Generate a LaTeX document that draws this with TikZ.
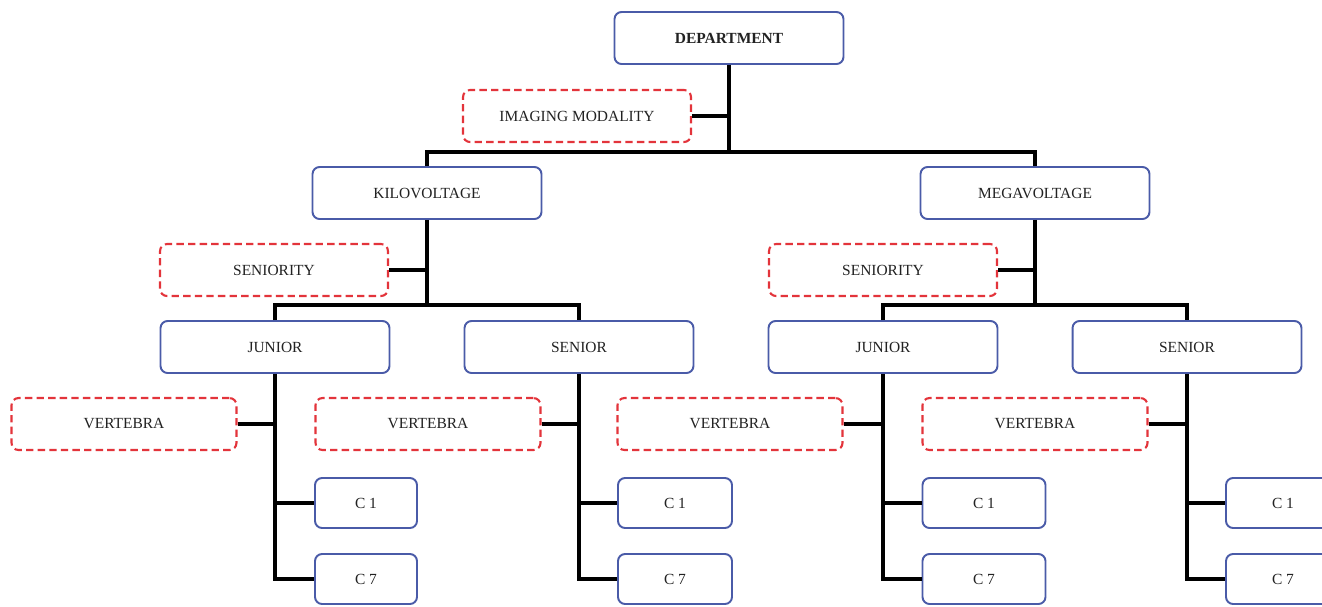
\documentclass[tikz,border=0pt]{standalone}
\usepackage{fontspec}
\setmainfont{Liberation Serif}
\usepackage{tikz}
\usetikzlibrary{positioning,calc}
\definecolor{boxblue}{HTML}{4A5BA8}
\definecolor{dashred}{HTML}{E3343B}
\definecolor{ink}{HTML}{222222}
\newcommand{\boxfont}{\fontsize{8.8}{10}\selectfont}

\begin{document}
\begin{tikzpicture}[x=0.02cm, y=-0.02cm,
  level/.style={draw=boxblue, line width=1.1pt, fill=white, rounded corners=4pt,
    minimum width=4.58cm, minimum height=1.04cm, align=center,
    font=\boxfont, text=ink},
  factor/.style={draw=dashred, line width=1.2pt, dash pattern=on 4.2pt off 2.4pt,
    fill=white, rounded corners=4pt, minimum width=4.56cm, minimum height=1.04cm,
    align=center, font=\boxfont, text=ink},
  leaf/.style={draw=boxblue, line width=1.1pt, fill=white, rounded corners=4pt,
    minimum width=2.28cm, minimum height=1.0cm, font=\boxfont, text=ink},
  link/.style={line width=2.6pt, draw=black}
]
\useasboundingbox (0,0) rectangle (1322,606);
\clip (0,0) rectangle (1322,606);
\node[level, font=\boxfont\bfseries] (dept) at (729,38) {DEPARTMENT};
\node[factor] (modality) at (577,116) {IMAGING MODALITY};
\node[level] (kv) at (427,193) {KILOVOLTAGE};
\node[level] (mv) at (1035,193) {MEGAVOLTAGE};
\node[factor] (kvsen) at (274,270) {SENIORITY};
\node[factor] (mvsen) at (883,270) {SENIORITY};
\node[level] (kvjun) at (275,347) {JUNIOR};
\node[level] (kvsnr) at (579,347) {SENIOR};
\node[level] (mvjun) at (883,347) {JUNIOR};
\node[level] (mvsnr) at (1187,347) {SENIOR};
\node[factor, minimum width=4.5cm] (verta) at (124,424) {VERTEBRA};
\node[factor, minimum width=4.5cm] (vertb) at (428,424) {VERTEBRA};
\node[factor, minimum width=4.5cm] (vertc) at (730,424) {VERTEBRA};
\node[factor, minimum width=4.5cm] (vertd) at (1035,424) {VERTEBRA};
\node[leaf, minimum width=2.04cm] (conea) at (366,503) {C 1};
\node[leaf, minimum width=2.04cm] (csevena) at (366,579) {C 7};
\node[leaf] (coneb) at (675,503) {C 1};
\node[leaf] (csevenb) at (675,579) {C 7};
\node[leaf, minimum width=2.46cm] (conec) at (984,503) {C 1};
\node[leaf, minimum width=2.46cm] (csevenc) at (984,579) {C 7};
\node[leaf] (coned) at (1283,503) {C 1};
\node[leaf] (csevend) at (1283,579) {C 7};
\coordinate (split) at (729,152);
\coordinate (kvsplit) at (427,305);
\coordinate (mvsplit) at (1035,305);
\draw[link] (dept) -- (split);
\draw[link] (kv.north) |- (split) -| (mv.north);
\draw[link] (modality.east) -- (modality.east -| split);
\draw[link] (kv) -- (kvsplit);
\draw[link] (kvjun.north) |- (kvsplit) -| (kvsnr.north);
\draw[link] (kvsen.east) -- (kvsen.east -| kvsplit);
\draw[link] (mv) -- (mvsplit);
\draw[link] (mvjun.north) |- (mvsplit) -| (mvsnr.north);
\draw[link] (mvsen.east) -- (mvsen.east -| mvsplit);
\draw[link] (kvjun.south) |- (csevena.west);
\draw[link] (conea.west) -- (conea.west -| kvjun.south);
\draw[link] (verta.east) -- (verta.east -| kvjun.south);
\draw[link] (kvsnr.south) |- (csevenb.west);
\draw[link] (coneb.west) -- (coneb.west -| kvsnr.south);
\draw[link] (vertb.east) -- (vertb.east -| kvsnr.south);
\draw[link] (mvjun.south) |- (csevenc.west);
\draw[link] (conec.west) -- (conec.west -| mvjun.south);
\draw[link] (vertc.east) -- (vertc.east -| mvjun.south);
\draw[link] (mvsnr.south) |- (csevend.west);
\draw[link] (coned.west) -- (coned.west -| mvsnr.south);
\draw[link] (vertd.east) -- (vertd.east -| mvsnr.south);
\end{tikzpicture}
\end{document}
